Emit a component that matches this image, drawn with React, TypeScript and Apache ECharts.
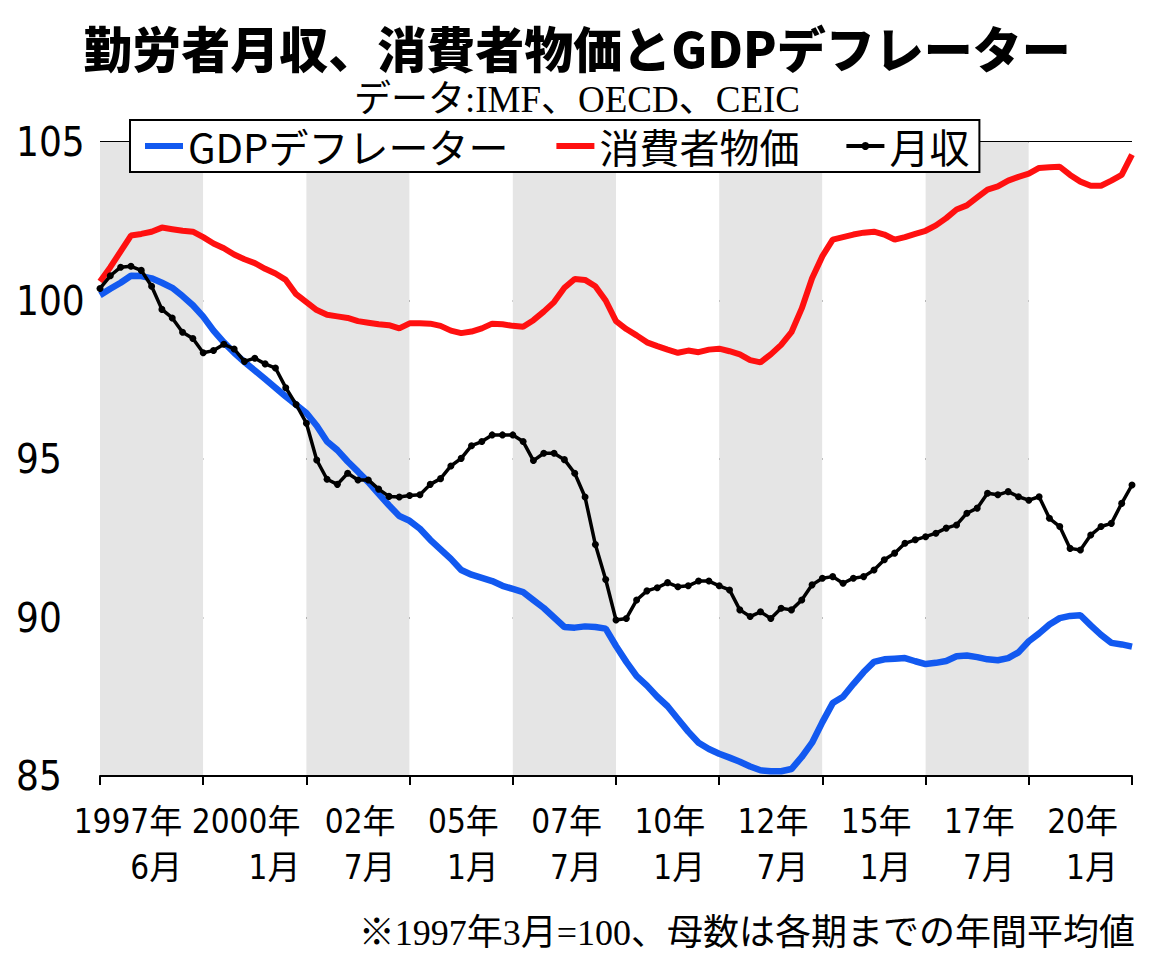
import React, { useEffect, useRef } from 'react';
import * as echarts from 'echarts';

// quarterly points, 1997Q2 .. 2022Q2
const periods: string[] = [];
for (let i = 0; i <= 100; i++) {
  const year = 1997 + Math.floor((i + 1) / 4);
  const quarter = ((i + 1) % 4) + 1;
  periods.push(`${year}Q${quarter}`);
}

// label of each 10-quarter band, drawn right-aligned at the band's end
const tickLabels = [
  ['1997年', '6月'], ['2000年', '1月'], ['02年', '7月'], ['05年', '1月'], ['07年', '7月'],
  ['10年', '1月'], ['12年', '7月'], ['15年', '1月'], ['17年', '7月'], ['20年', '1月'],
];

const gdpDeflator = [
  100.17, 100.37, 100.56, 100.78, 100.77, 100.7, 100.56, 100.4, 100.14, 99.85,
  99.49, 99.05, 98.68, 98.35, 98.06, 97.79, 97.52, 97.25, 96.97, 96.71,
  96.45, 96.05, 95.55, 95.28, 94.92, 94.6, 94.27, 93.9, 93.54, 93.2,
  93.05, 92.8, 92.45, 92.15, 91.85, 91.5, 91.35, 91.25, 91.15, 91.0,
  90.9, 90.8, 90.55, 90.3, 90.0, 89.7, 89.68, 89.72, 89.7, 89.65,
  89.1, 88.6, 88.15, 87.85, 87.5, 87.2, 86.8, 86.4, 86.05, 85.85,
  85.7, 85.58, 85.45, 85.3, 85.18, 85.15, 85.15, 85.22, 85.6, 86.05,
  86.7, 87.3, 87.5, 87.9, 88.28, 88.6, 88.68, 88.7, 88.72, 88.62,
  88.53, 88.57, 88.63, 88.78, 88.8, 88.75, 88.68, 88.65, 88.72, 88.9,
  89.25, 89.5, 89.78, 89.98, 90.05, 90.07, 89.75, 89.45, 89.2, 89.15,
  89.08,
];

const consumerPrices = [
  100.6, 101.05, 101.55, 102.05, 102.1, 102.17, 102.3, 102.25, 102.2, 102.17,
  102.0, 101.8, 101.65, 101.45, 101.3, 101.18, 101.0, 100.85, 100.65, 100.2,
  99.95, 99.7, 99.55, 99.5, 99.45, 99.35, 99.3, 99.25, 99.22, 99.12,
  99.28, 99.28, 99.27, 99.2, 99.05, 98.97, 99.02, 99.12, 99.27, 99.25,
  99.2, 99.17, 99.38, 99.65, 99.95, 100.4, 100.68, 100.65, 100.45, 100.0,
  99.35, 99.1, 98.9, 98.68, 98.56, 98.45, 98.35, 98.42, 98.37, 98.45,
  98.48, 98.4, 98.3, 98.12, 98.05, 98.3, 98.6, 99.0, 99.75, 100.7,
  101.4, 101.92, 102.0, 102.08, 102.14, 102.17, 102.08, 101.92, 102.0, 102.1,
  102.2, 102.37, 102.6, 102.87, 103.0, 103.25, 103.5, 103.6, 103.78, 103.9,
  104.0, 104.18, 104.2, 104.22, 103.96, 103.75, 103.62, 103.62, 103.78, 103.96,
  104.6,
];

const monthlyIncome = [
  100.38, 100.78, 101.05, 101.08, 100.95, 100.45, 99.72, 99.45, 99.0, 98.8,
  98.35, 98.42, 98.62, 98.47, 98.08, 98.18, 98.0, 97.87, 97.25, 96.72,
  96.13, 94.97, 94.36, 94.2, 94.55, 94.34, 94.34, 94.05, 93.82, 93.8,
  93.85, 93.87, 94.2, 94.38, 94.78, 95.02, 95.42, 95.55, 95.76, 95.76,
  95.76, 95.55, 94.95, 95.18, 95.18, 94.98, 94.55, 93.8, 92.3, 91.2,
  89.92, 89.97, 90.55, 90.84, 90.94, 91.1, 90.97, 91.0, 91.15, 91.15,
  91.0, 90.87, 90.24, 90.03, 90.18, 89.97, 90.29, 90.24, 90.55, 91.03,
  91.24, 91.29, 91.08, 91.24, 91.29, 91.5, 91.82, 92.03, 92.34, 92.45,
  92.55, 92.66, 92.82, 92.92, 93.29, 93.45, 93.92, 93.87, 93.97, 93.81,
  93.7, 93.81, 93.13, 92.87, 92.18, 92.13, 92.6, 92.87, 92.97, 93.6,
  94.18,
];

const NARROW = '"Liberation Sans Narrow", "DejaVu Sans Condensed", "Noto Sans CJK JP", sans-serif';
const GOTHIC = '"Noto Sans CJK JP", sans-serif';
const SERIF = '"Liberation Serif", "DejaVu Serif", "Noto Sans CJK JP", serif';

const BLUE = '#1259f0';
const RED = '#ff1010';

const tickText = (pad: number) => ({
  fontSize: 33,
  lineHeight: 46,
  fontFamily: NARROW,
  color: '#000',
  align: 'right',
  padding: [0, pad, 0, 0],
});

const App: React.FC = () => {
  const chartRef = useRef<HTMLDivElement>(null);

  useEffect(() => {
    if (!chartRef.current) return;
    const chart = echarts.init(chartRef.current, undefined, { renderer: 'svg' });

    chart.setOption({
      animation: false,
      backgroundColor: '#fff',
      title: [
        {
          text: '勤労者月収、消費者物価とGDPデフレーター',
          left: 'center',
          top: 16,
          textStyle: { fontSize: 49, lineHeight: 50, fontWeight: 900, color: '#000', fontFamily: GOTHIC },
        },
        {
          text: 'データ:IMF、OECD、CEIC',
          left: 'center',
          top: 76,
          textStyle: { fontSize: 37, lineHeight: 36, fontWeight: 'normal', color: '#000', fontFamily: SERIF },
        },
        {
          text: '※1997年3月=100、母数は各期までの年間平均値',
          right: 14,
          top: 910,
          textStyle: { fontSize: 36, fontWeight: 'normal', color: '#000', fontFamily: SERIF },
        },
      ],
      legend: {
        left: 130,
        top: 120,
        padding: [6, 10, 6, 12],
        itemGap: 45,
        itemWidth: 38,
        itemHeight: 10,
        borderColor: '#000',
        borderWidth: 2,
        backgroundColor: '#fff',
        textStyle: { fontSize: 40, lineHeight: 40, color: '#000', fontFamily: GOTHIC },
        data: [
          { name: 'GDPデフレーター', itemStyle: { opacity: 0 }, lineStyle: { width: 6 } },
          { name: '消費者物価', itemStyle: { opacity: 0 }, lineStyle: { width: 6 } },
          { name: '月収', lineStyle: { width: 4 } },
        ],
      },
      grid: { left: 100, right: 22, top: 142, bottom: 194 },
      xAxis: {
        type: 'category',
        data: periods,
        boundaryGap: false,
        axisLine: { lineStyle: { color: '#000', width: 2 } },
        axisTick: { show: true, interval: 9, length: 9, lineStyle: { color: '#000', width: 2 } },
        axisLabel: {
          interval: 9,
          align: 'right',
          margin: 22,
          fontSize: 33,
          lineHeight: 46,
          color: '#000',
          fontFamily: NARROW,
          formatter: (_v: string, index: number) => {
            if (index === 0 || index % 10 !== 0) return '';
            const k = index / 10 - 1;
            const style = k === 0 ? 'first' : k === 1 ? 'second' : 'band';
            const [yearText, monthText] = tickLabels[k];
            return `{${style}|${yearText}}\n{${style}|${monthText}}`;
          },
          rich: {
            first: tickText(21),
            second: tickText(6),
            band: tickText(14),
          },
        },
        splitLine: { show: false },
        splitArea: {
          show: true,
          interval: 9,
          areaStyle: { color: ['#e5e5e5', '#ffffff'] },
        },
      },
      yAxis: {
        type: 'value',
        min: 85,
        max: 105,
        interval: 5,
        axisLine: { show: false },
        axisTick: { show: false },
        axisLabel: {
          align: 'left',
          margin: 84,
          fontSize: 40,
          color: '#000',
          fontFamily: NARROW,
        },
        splitLine: { show: true, lineStyle: { color: '#000', width: 2 } },
      },
      series: [
        {
          name: '消費者物価',
          type: 'line',
          data: consumerPrices,
          symbol: 'none',
          lineStyle: { color: RED, width: 6 },
          itemStyle: { color: RED },
          z: 2,
        },
        {
          name: 'GDPデフレーター',
          type: 'line',
          data: gdpDeflator,
          symbol: 'none',
          lineStyle: { color: BLUE, width: 6.5 },
          itemStyle: { color: BLUE },
          z: 3,
        },
        {
          name: '月収',
          type: 'line',
          data: monthlyIncome,
          symbol: 'circle',
          symbolSize: 7,
          showSymbol: true,
          showAllSymbol: true,
          lineStyle: { color: '#000', width: 3.5 },
          itemStyle: { color: '#000' },
          z: 4,
        },
      ],
    });

    return () => {
      chart.dispose();
    };
  }, []);

  return (
    <div
      ref={chartRef}
      style={{ position: 'fixed', left: 0, top: 0, width: 1154, height: 970 }}
    />
  );
};

export default App;
